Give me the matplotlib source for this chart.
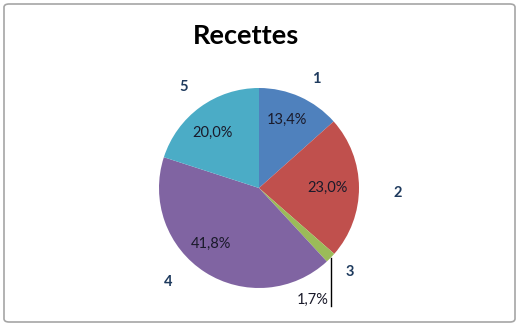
import numpy as np
import matplotlib.pyplot as plt
from matplotlib.patches import FancyBboxPatch

# Données
categories = ['1', '2', '3', '4', '5']
valeurs = [13.4, 23.0, 1.7, 41.8, 20.0]
etiquettes_pct = ['13,4%', '23,0%', '1,7%', '41,8%', '20,0%']
couleurs = ['#4F81BD', '#C0504D', '#9BBB59', '#8064A2', '#4BACC6']

# placement des étiquettes (distance en rayons, décalage angulaire en degrés, sens horaire)
dist_cat = [1.23, 1.39, 1.24, 1.31, 1.26]
decal_cat = [3.5, 2.4, -1.4, 11.6, -0.6]
dist_pct = [0.74, 0.69, None, 0.74, 0.72]
decal_pct = [-2.0, 0.4, 0, 8.0, -4.5]

plt.rcParams['font.family'] = ['Lato', 'DejaVu Sans']

fig = plt.figure(figsize=(5.19, 3.26), dpi=100)
ax = fig.add_axes([0, 0, 1, 1])

wedges, _ = ax.pie(valeurs, colors=couleurs, startangle=90, counterclock=False,
                   radius=1.0, wedgeprops=dict(linewidth=0))

for i, w in enumerate(wedges):
    mid = (w.theta1 + w.theta2) / 2
    a = np.deg2rad(mid - decal_cat[i])
    ax.text(dist_cat[i] * np.cos(a), dist_cat[i] * np.sin(a), categories[i],
            ha='center', va='center', fontsize=10.5, fontweight='bold', color='#1F3B5E')
    x, y = np.cos(np.deg2rad(mid)), np.sin(np.deg2rad(mid))
    if dist_pct[i] is not None:
        a = np.deg2rad(mid - decal_pct[i])
        ax.text(dist_pct[i] * np.cos(a), dist_pct[i] * np.sin(a), etiquettes_pct[i],
                ha='center', va='center', fontsize=10.5, color='#1A1A2A')
    else:
        # petite part : étiquette sortie avec trait de rappel
        ax.plot([x, x], [y, -1.18], color='black', lw=1)
        ax.text(x - 0.02, -1.12, etiquettes_pct[i], ha='right', va='center',
                fontsize=10.5, color='#1A1A2A')

ax.set_xlim(-2.59, 2.60)
ax.set_ylim(-1.38, 1.88)
ax.set_aspect('auto')
ax.axis('off')

fig.text(0.474, 1 - 36 / 326, 'Recettes', ha='center', va='center',
         fontsize=19.5, fontweight='bold', color='black')

cadre = FancyBboxPatch((4 / 519, 4 / 326), 511 / 519, 318 / 326,
                       boxstyle='round,pad=0,rounding_size=0.01',
                       transform=fig.transFigure, fill=False,
                       edgecolor='#A6A6A6', lw=1.2)
fig.patches.append(cadre)

fig.savefig('out.png', dpi=100)
